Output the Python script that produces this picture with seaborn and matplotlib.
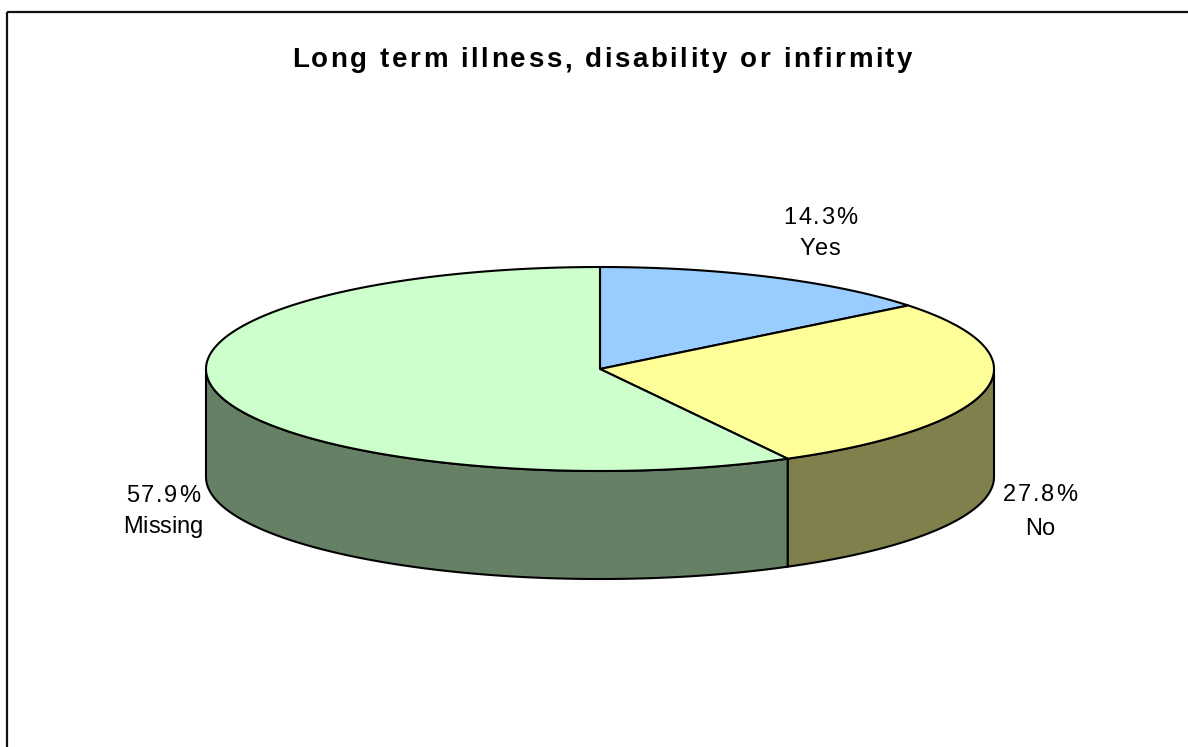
import numpy as np
import matplotlib
matplotlib.use("Agg")
import matplotlib.pyplot as plt
from matplotlib.patches import Polygon, Rectangle
from matplotlib.font_manager import FontProperties, findfont
from matplotlib.ft2font import FT2Font
import seaborn as sns

# Survey responses: long term illness, disability or infirmity
categories = ["Yes", "No", "Missing"]
shares = [14.3, 27.8, 57.9]
top_colors = ["#99CCFF", "#FFFF99", "#CCFFCC"]
side_colors = ["#4D6680", "#80804D", "#668066"]

sns.set_style("white")
plt.rcParams["font.family"] = ["Liberation Sans", "DejaVu Sans"]

DPI = 100
W, H = 1188, 747
fig = plt.figure(figsize=(W / DPI, H / DPI), dpi=DPI)
ax = fig.add_axes([0, 0, 1, 1])
ax.set_xlim(0, W)
ax.set_ylim(H, 0)
ax.axis("off")

# Chart frame
ax.add_patch(Rectangle((7, 12), W + 20, H + 20, fill=False, edgecolor="#111111",
                       linewidth=1.6, clip_on=False))

# Tilted pie geometry (pixel space)
cx, cy, rx, ry, depth = 600, 369, 394, 102, 108


def arc(a, b, drop=0.0, n=200):
    t = np.radians(np.linspace(a, b, n))
    return np.column_stack([cx + rx * np.cos(t), cy - ry * np.sin(t) + drop])


fracs = np.array(shares) / np.sum(shares)
bounds = 90 - 360 * np.concatenate([[0], np.cumsum(fracs)])

# Visible side walls (front half of the disc)
for i in range(len(shares)):
    hi, lo = bounds[i], bounds[i + 1]
    a, b = max(lo, -180), min(hi, 0)
    if b <= a:
        continue
    top = arc(b, a)
    bottom = arc(a, b, drop=depth)
    ax.add_patch(Polygon(np.vstack([top, bottom]), closed=True,
                         facecolor=side_colors[i], edgecolor="black",
                         linewidth=1.5, joinstyle="round", zorder=2))

# Top faces
for i in range(len(shares)):
    pts = np.vstack([[cx, cy], arc(bounds[i], bounds[i + 1])])
    ax.add_patch(Polygon(pts, closed=True, facecolor=top_colors[i],
                         edgecolor="black", linewidth=1.5, joinstyle="round",
                         zorder=3))


def tracked_text(xc, baseline, s, size, weight="normal", track=0.0):
    """Centred text with extra spacing between characters (pixel units)."""
    fp = FontProperties(family="Liberation Sans", weight=weight, size=size)
    font = FT2Font(findfont(fp))
    font.set_size(size, DPI)
    adv = []
    for ch in s:
        g = font.load_char(ord(ch))
        adv.append(g.linearHoriAdvance / 65536.0)
    total = sum(adv) + track * (len(s) - 1)
    x = xc - total / 2
    for ch, a in zip(s, adv):
        ax.text(x, baseline, ch, ha="left", va="baseline", fontproperties=fp,
                color="black", zorder=5)
        x += a + track


# Data labels
label_pos = [(820, 224, 255), (1040, 501, 535), (163, 502, 533)]
for (x, y1, y2), cat, val in zip(label_pos, categories, shares):
    tracked_text(x, y1, f"{val:.1f}%", 17, track=1.6)
    tracked_text(x, y2, cat, 17, track=0.0)

tracked_text(602, 67, "Long term illness, disability or infirmity", 20,
             weight="bold", track=2.5)

fig.savefig("out.png", dpi=DPI, facecolor="white")
